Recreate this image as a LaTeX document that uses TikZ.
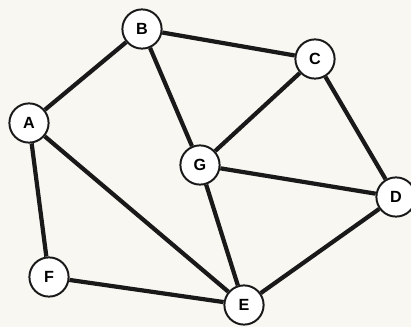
\documentclass[tikz,border=0pt]{standalone}
\usepackage{fontspec}
\setmainfont{Liberation Sans}
\usepackage{pgf,tikz}
\usetikzlibrary{arrows,calc}
\definecolor{paper}{RGB}{248,247,242}
\colorlet{inchiostro}{black!90}

\begin{document}
\begin{tikzpicture}[x=0.025cm,y=-0.025cm,
  vertice/.style={circle,draw=inchiostro,line width=1.4pt,fill=white,minimum size=0.98cm,inner sep=0pt,font=\fontsize{11.5}{13}\selectfont\bfseries},
  lato/.style={line width=3pt,inchiostro}]
\fill[paper] (0,0) rectangle (411,327);
\useasboundingbox (0,0) rectangle (411,327);
\node[vertice] (A) at (29,123) {A};
\node[vertice] (B) at (142,29) {B};
\node[vertice] (C) at (315,59) {C};
\node[vertice] (G) at (200,165) {G};
\node[vertice] (D) at (396,197) {D};
\node[vertice] (F) at (49,277) {F};
\node[vertice] (E) at (244,305) {E};
\draw[lato] (A) -- (B);
\draw[lato] (B) -- (C);
\draw[lato] (B) -- (G);
\draw[lato] (C) -- (G);
\draw[lato] (C) -- (D);
\draw[lato] (G) -- (D);
\draw[lato] (A) -- (F);
\draw[lato] (A) -- (E);
\draw[lato] (G) -- (E);
\draw[lato] (F) -- (E);
\draw[lato] (E) -- (D);
\end{tikzpicture}
\end{document}
